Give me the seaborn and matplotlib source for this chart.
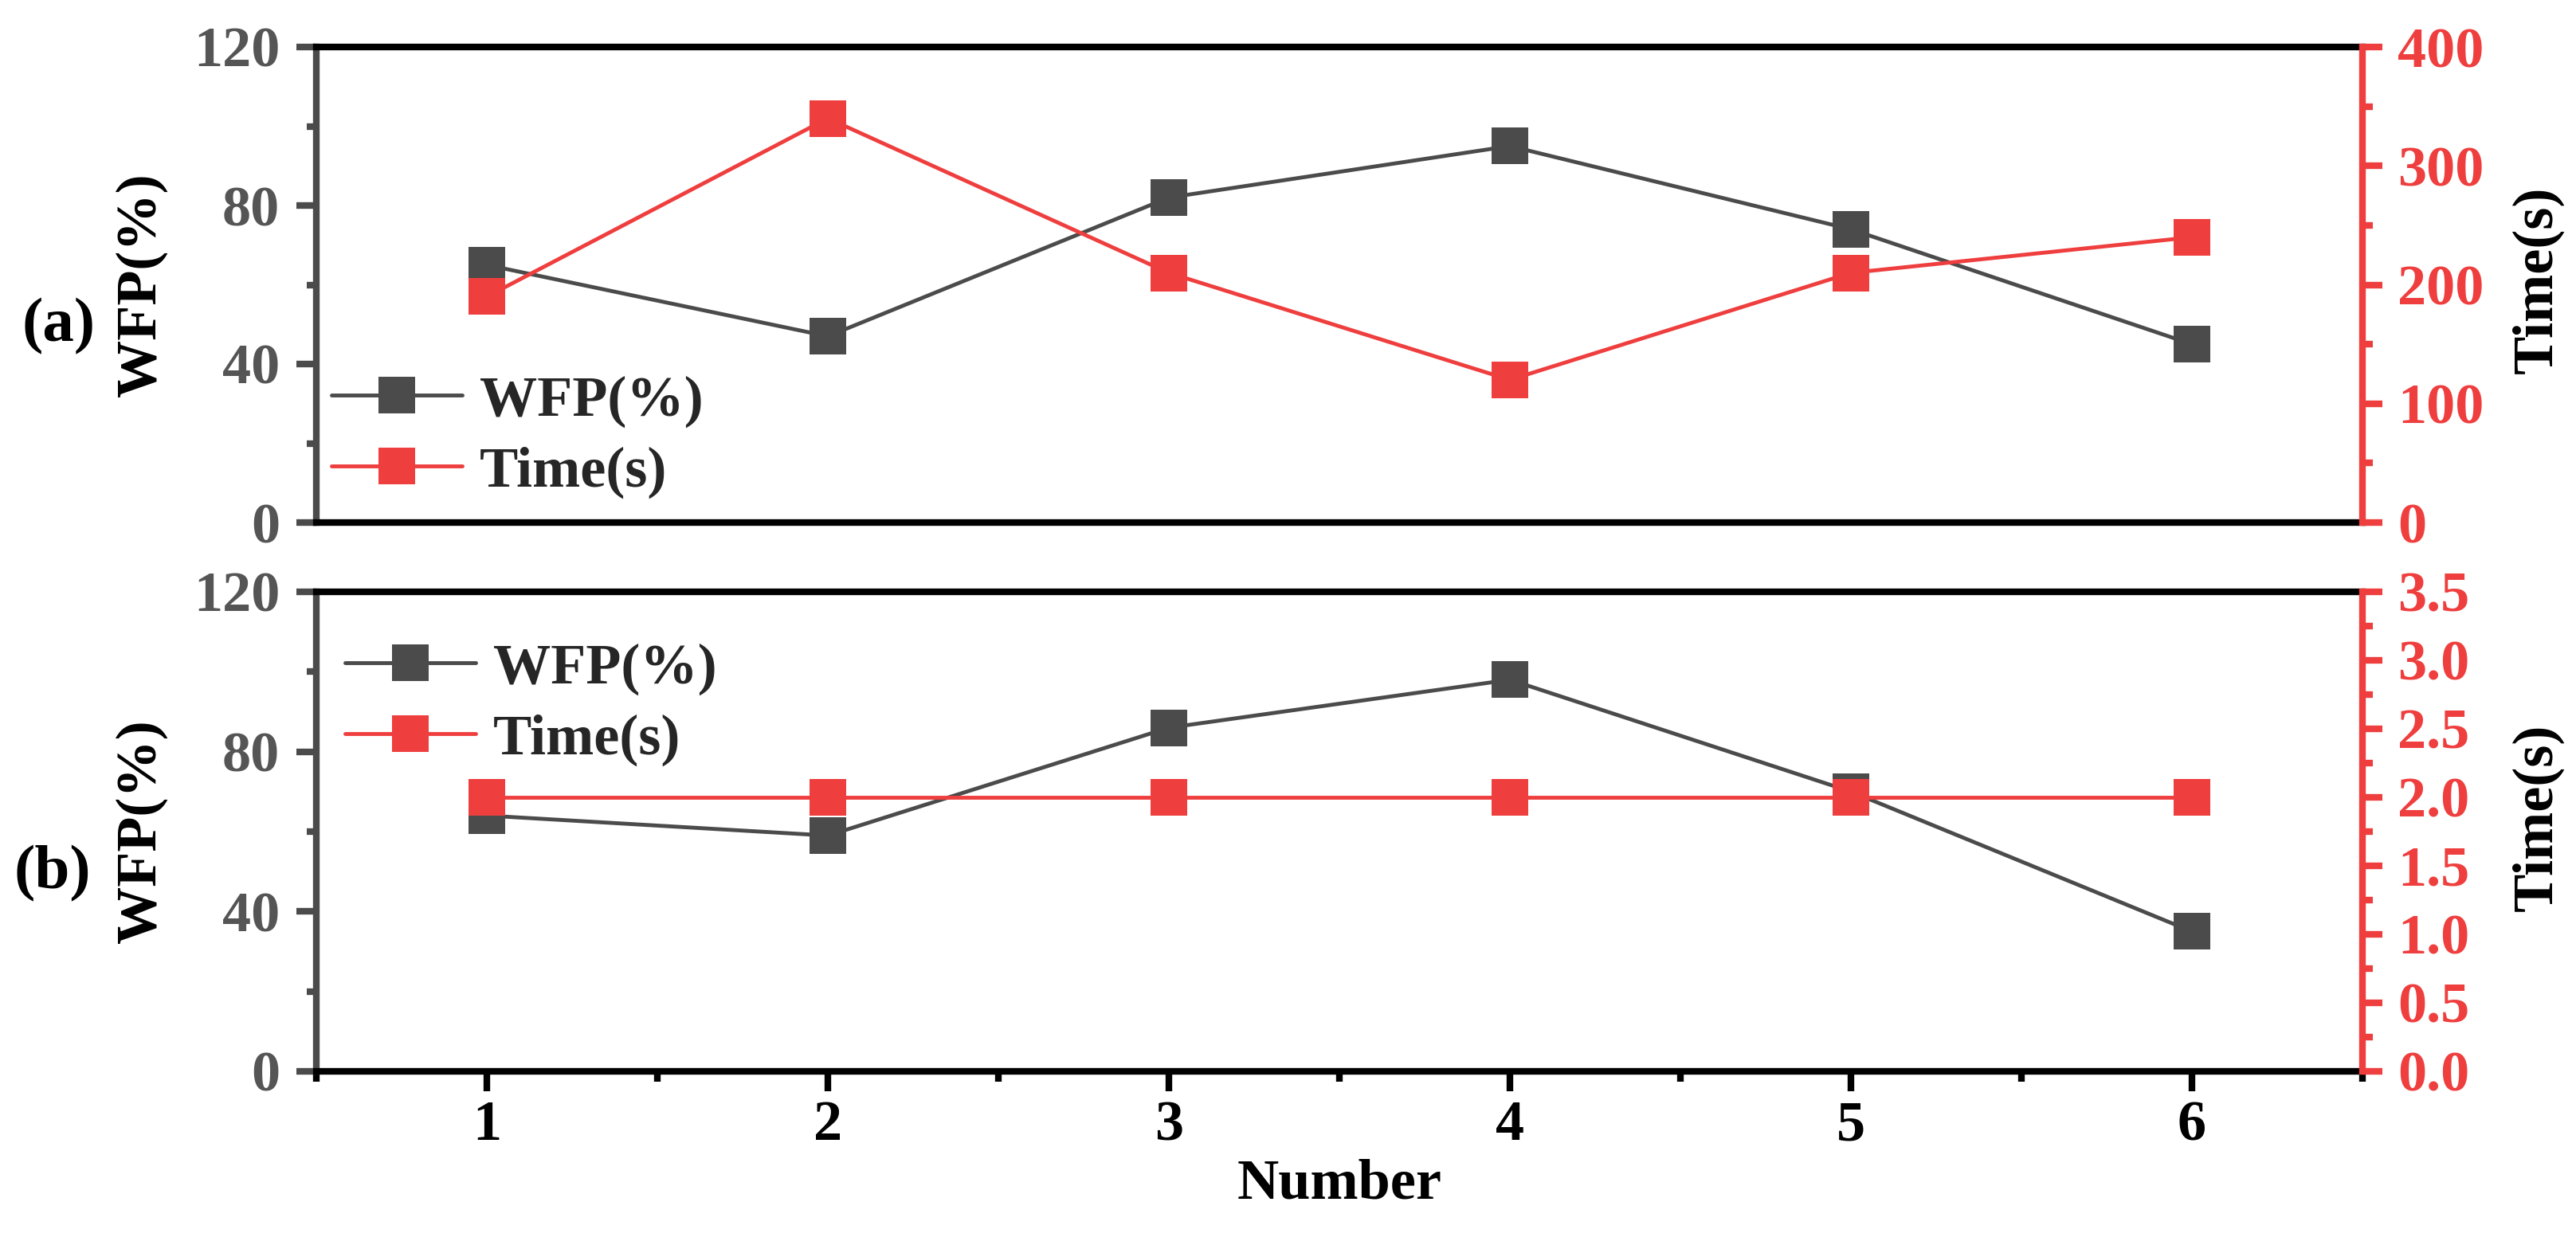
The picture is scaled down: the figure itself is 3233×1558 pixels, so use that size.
import matplotlib
matplotlib.use("Agg")
import matplotlib.pyplot as plt
import seaborn as sns
from matplotlib.ticker import MultipleLocator, FixedLocator, FormatStrFormatter
from matplotlib.lines import Line2D

# ---------------- data ----------------
number = [1, 2, 3, 4, 5, 6]
wfp_a = [65, 47, 82, 95, 74, 45]
time_a = [190, 340, 210, 120, 210, 240]
wfp_b = [64, 59, 86, 98, 70, 35]
time_b = [2.0, 2.0, 2.0, 2.0, 2.0, 2.0]
x_ticks = [1, 2, 3, 4, 5, 6]
wfp_ticks = [0, 40, 80, 120]
time_a_ticks = [0, 100, 200, 300, 400]
panel_tags = ["(a)", "(b)"]
series_names = ["WFP(%)", "Time(s)"]

GRAY = "#4B4B4B"
GRAY_TXT = "#555555"
RED = "#EF3E3E"
FS = 52
MS = 33
LW = 3.5
SPW = 6

sns.set_theme(style="white")
plt.rcParams["font.family"] = ["Liberation Serif", "DejaVu Serif"]
plt.rcParams["font.weight"] = "bold"
plt.rcParams["axes.labelweight"] = "bold"

fig = plt.figure(figsize=(32.33, 15.58), dpi=100)
W, H = 3233, 1558
left, right = 397, 2965
ax_a = fig.add_axes([left / W, 1 - 656 / H, (right - left) / W, (656 - 59) / H])
ax_b = fig.add_axes([left / W, 1 - 1345 / H, (right - left) / W, (1345 - 743) / H])


def style_panel(ax, ax2, wfp, tm, tlim, tmajor, tminor, tfmt, show_x, tlabel_y, leg_anchor):
    sns.lineplot(x=number, y=wfp, ax=ax, color=GRAY, marker="s", markersize=MS,
                 markeredgewidth=0, linewidth=LW, legend=False)
    sns.lineplot(x=number, y=tm, ax=ax2, color=RED, marker="s", markersize=MS,
                 markeredgewidth=0, linewidth=LW, legend=False)
    ax.set_xlim(0.5, 6.5)
    ax.set_ylim(0, 120)
    ax.yaxis.set_major_locator(FixedLocator(wfp_ticks))
    ax.yaxis.set_minor_locator(MultipleLocator(20))
    ax2.set_ylim(*tlim)
    ax2.yaxis.set_major_locator(MultipleLocator(tmajor))
    ax2.yaxis.set_minor_locator(MultipleLocator(tminor))
    ax2.yaxis.set_major_formatter(FormatStrFormatter(tfmt))

    for s in ["top", "bottom"]:
        ax.spines[s].set_color("black")
        ax.spines[s].set_linewidth(SPW)
    ax.spines["left"].set_color(GRAY)
    ax.spines["left"].set_linewidth(SPW)
    ax.spines["right"].set_visible(False)
    for s in ["top", "bottom", "left"]:
        ax2.spines[s].set_visible(False)
    ax2.spines["right"].set_color(RED)
    ax2.spines["right"].set_linewidth(SPW)

    ax.tick_params(axis="y", which="major", direction="out", length=18, width=SPW,
                   color=GRAY, labelcolor=GRAY_TXT, labelsize=FS, pad=15, left=True)
    ax.tick_params(axis="y", which="minor", direction="out", length=9, width=SPW,
                   color=GRAY, left=True)
    ax2.tick_params(axis="y", which="major", direction="out", length=18, width=SPW,
                    color=RED, labelcolor=RED, labelsize=FS, pad=14, right=True)
    ax2.tick_params(axis="y", which="minor", direction="out", length=9, width=SPW,
                    color=RED, right=True)
    if show_x:
        ax.xaxis.set_major_locator(FixedLocator(x_ticks))
        ax.xaxis.set_minor_locator(FixedLocator([0.5 + i for i in range(7)]))
        ax.tick_params(axis="x", which="major", direction="out", length=18, width=SPW,
                       color="black", labelcolor="black", labelsize=FS, pad=8, bottom=True)
        ax.tick_params(axis="x", which="minor", direction="out", length=9, width=SPW,
                       color="black", bottom=True)
    else:
        ax.tick_params(axis="x", which="both", bottom=False, labelbottom=False)
    ax2.tick_params(axis="x", which="both", bottom=False, labelbottom=False)

    ax.set_xlabel("")
    ax.set_ylabel("WFP(%)", fontsize=FS, fontweight="bold", color="black")
    ax.yaxis.label.set_va("center")
    ax.yaxis.label.set_ha("center")
    ax.yaxis.set_label_coords(-0.0857, 0.5)
    ax2.set_ylabel("Time(s)", fontsize=FS, fontweight="bold", color="black", rotation=90)
    ax2.yaxis.label.set_va("center")
    ax2.yaxis.label.set_ha("center")
    ax2.yaxis.set_label_coords(1.0857, tlabel_y)

    handles = [Line2D([], [], color=GRAY, marker="s", markersize=MS, markeredgewidth=0, lw=LW),
               Line2D([], [], color=RED, marker="s", markersize=MS, markeredgewidth=0, lw=LW)]
    leg = ax2.legend(handles, series_names, loc="center left", bbox_to_anchor=leg_anchor,
                     frameon=False, borderaxespad=0, borderpad=0, handlelength=2.27,
                     handletextpad=0.3, labelspacing=0.32,
                     prop={"family": "Liberation Serif", "weight": "bold", "size": FS})
    return leg


ax_a2 = ax_a.twinx()
style_panel(ax_a, ax_a2, wfp_a, time_a, (0, 400), 100, 50, "%d", False, 0.51, (0.0074, 0.18))
ax_a2.yaxis.set_major_locator(FixedLocator(time_a_ticks))

ax_b2 = ax_b.twinx()
style_panel(ax_b, ax_b2, wfp_b, time_b, (0, 3.5), 0.5, 0.25, "%.1f", True, 0.53, (0.014, 0.765))

ax_b.set_xlabel("Number", fontsize=FS, fontweight="bold", color="black", labelpad=6)

fig.text(74 / W, 1 - 410 / H, panel_tags[0], fontsize=57, fontweight="bold",
         ha="center", va="center", color="black")
fig.text(66 / W, 1 - 1097 / H, panel_tags[1], fontsize=57, fontweight="bold",
         ha="center", va="center", color="black")

fig.savefig("out.png", dpi=100, facecolor="white")
